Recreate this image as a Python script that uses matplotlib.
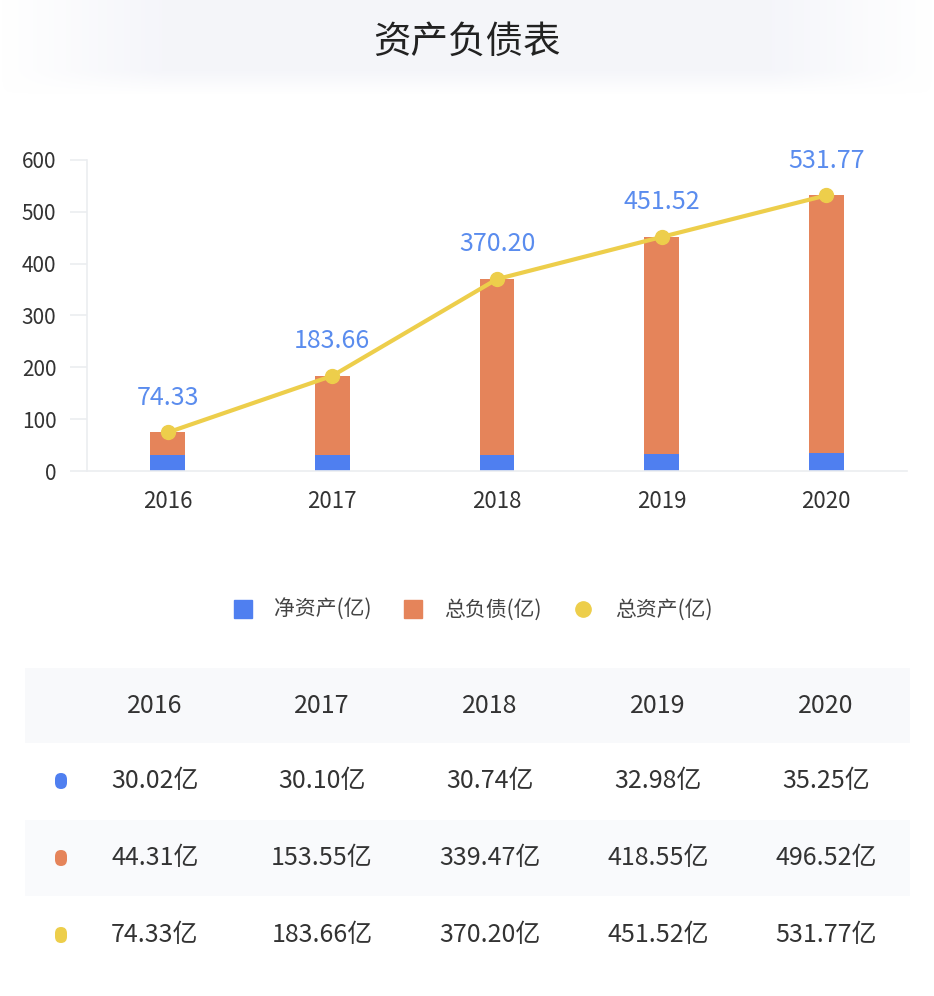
import matplotlib
matplotlib.use("Agg")
import numpy as np
import matplotlib.pyplot as plt
from matplotlib.patches import Rectangle, FancyBboxPatch
from matplotlib.lines import Line2D

plt.rcParams["font.family"] = ["Noto Sans CJK SC", "DejaVu Sans"]

years = ["2016", "2017", "2018", "2019", "2020"]
net_assets = [30.02, 30.10, 30.74, 32.98, 35.25]
liabilities = [44.31, 153.55, 339.47, 418.55, 496.52]
total_assets = [74.33, 183.66, 370.20, 451.52, 531.77]
series_names = ["净资产(亿)", "总负债(亿)", "总资产(亿)"]
title = "资产负债表"

C_NET = "#4F7FF0"
C_DEBT = "#E5845A"
C_TOTAL = "#EDCE4B"
C_LABEL = "#5A8CEE"
C_TEXT = "#333333"

W, H = 934, 996
fig = plt.figure(figsize=(W / 100, H / 100), dpi=100)
fig.patch.set_facecolor("white")

# soft title band, fading out to the sides and bottom
band = fig.add_axes([0, 1 - 95 / H, 1, 95 / H], zorder=0)
gx = np.linspace(-1, 1, 400)
gy = np.linspace(0, 1, 60)
fx = np.clip((1 - np.abs(gx)) / 0.35, 0, 1)
fy = np.clip((1 - gy) / 0.25, 0, 1)
alpha = np.outer(fy, fx) * 0.85
img = np.zeros((60, 400, 4))
img[..., 0], img[..., 1], img[..., 2] = 0.955, 0.96, 0.98
img[..., 3] = alpha
band.imshow(img, aspect="auto", extent=(0, 1, 0, 1), origin="upper")
band.axis("off")
fig.text(0.5, 1 - 42 / H, title, ha="center", va="center", fontsize=27,
         color="#222222", fontweight="medium")

# chart
ax = fig.add_axes([87 / W, 1 - 471 / H, (907 - 87) / W, (471 - 160) / H])
x = list(range(len(years)))
bw = 0.21
ax.bar(x, net_assets, width=bw, color=C_NET, zorder=2)
ax.bar(x, liabilities, width=bw, bottom=net_assets, color=C_DEBT, zorder=2)
ax.plot(x, total_assets, color=C_TOTAL, lw=3, marker="o", ms=10, zorder=3)
for xi, v in zip(x, total_assets):
    ax.annotate(f"{v:.2f}", (xi, v), xytext=(0, 25), textcoords="offset points",
                ha="center", va="center", fontsize=18, color=C_LABEL, fontweight="medium")

ax.set_xlim(-0.49, 4.49)
ax.set_ylim(0, 600)
ax.set_yticks(range(0, 601, 100))
ax.set_xticks(x)
ax.set_xticklabels(years)
for s in ["top", "right"]:
    ax.spines[s].set_visible(False)
for s in ["left", "bottom"]:
    ax.spines[s].set_color("#EBEDF0")
    ax.spines[s].set_linewidth(1.2)
ax.tick_params(axis="y", length=12, width=1.2, color="#EBEDF0", pad=10,
               labelsize=15, labelcolor=C_TEXT)
ax.tick_params(axis="x", length=0, pad=14, labelsize=16, labelcolor=C_TEXT)
for lab in ax.get_xticklabels() + ax.get_yticklabels():
    lab.set_fontweight("medium")

# legend
handles = [
    Line2D([], [], ls="none", marker="s", ms=13, color=C_NET),
    Line2D([], [], ls="none", marker="s", ms=13, color=C_DEBT),
    Line2D([], [], ls="none", marker="o", ms=11, color=C_TOTAL),
]
fig.legend(handles, series_names, loc="center", bbox_to_anchor=(0.5, 1 - 610 / H),
           ncol=3, frameon=False, fontsize=15, handletextpad=0.5, columnspacing=1.0,
           labelcolor="#444444")

# table
row_y = [706, 781, 858, 935]
row_bg = ["#F8F9FB", "#FFFFFF", "#F9FAFC", "#FFFFFF"]
col_x = [155, 322, 490, 658, 826]
for yc, bg in zip(row_y, row_bg):
    fig.add_artist(Rectangle((25 / W, 1 - (yc + 38) / H), (910 - 25) / W, 76 / H,
                             transform=fig.transFigure, facecolor=bg, edgecolor="none", zorder=0))
for cx, yr in zip(col_x, years):
    fig.text(cx / W, 1 - row_y[0] / H, yr, ha="center", va="center", fontsize=18,
             color=C_TEXT, fontweight="medium")
for yc, vals, c in zip(row_y[1:], [net_assets, liabilities, total_assets], [C_NET, C_DEBT, C_TOTAL]):
    fig.add_artist(FancyBboxPatch((55 / W, 1 - (yc + 8) / H), 12 / W, 16 / H,
                                  boxstyle="round,pad=0,rounding_size=0.0064",
                                  transform=fig.transFigure, facecolor=c, edgecolor="none"))
    for cx, v in zip(col_x, vals):
        fig.text(cx / W, 1 - yc / H, f"{v:.2f}亿", ha="center", va="center",
                 fontsize=18, color=C_TEXT, fontweight="medium")

fig.savefig("out.png", dpi=100)
